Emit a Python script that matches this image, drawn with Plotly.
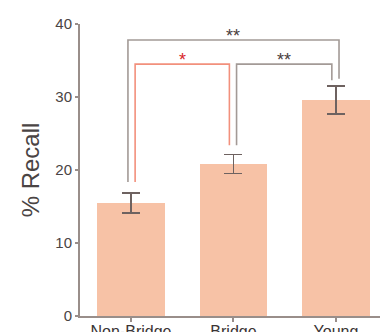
import plotly.graph_objects as go

# Recall by group
categories = ["Non-Bridge", "Bridge", "Young"]
recall_mean = [15.5, 20.8, 29.6]
recall_err = [1.35, 1.3, 1.9]

# Significance brackets: (left group, right group, left offset, right offset,
# bracket height, left leg end, right leg end, label, colour)
bracket_pairs = [(0, 2), (0, 1), (1, 2)]
bracket_offsets = [(-0.03, 0.03), (0.04, -0.04), (0.03, -0.04)]
bracket_heights = [37.8, 34.5, 34.5]
bracket_leg_ends = [(18.35, 32.5), (18.35, 23.4), (23.4, 32.3)]
bracket_labels = ["**", "*", "**"]
bracket_colors = ["#a39a96", "#f2907c", "#a39a96"]
label_colors = ["#4a4040", "#d8262a", "#4a4040"]

x = list(range(len(categories)))

fig = go.Figure()
fig.add_trace(go.Bar(
    x=x, y=recall_mean, width=0.66,
    marker=dict(color="#f7c2a6", line=dict(width=0)),
    error_y=dict(type="data", array=recall_err, visible=True,
                 color="#6e6260", thickness=1.6, width=9),
    showlegend=False,
))

for (a, b), (oa, ob), h, (la, lb), lab, col, lcol in zip(
        bracket_pairs, bracket_offsets, bracket_heights, bracket_leg_ends,
        bracket_labels, bracket_colors, label_colors):
    xa, xb = x[a] + oa, x[b] + ob
    fig.add_trace(go.Scatter(
        x=[xa, xa, xb, xb], y=[la, h, h, lb], mode="lines",
        line=dict(color=col, width=1.6), hoverinfo="skip", showlegend=False,
    ))
    fig.add_annotation(x=(xa + xb) / 2, y=h, text=lab, showarrow=False,
                       yanchor="middle", yshift=4,
                       font=dict(size=18, color=lcol, family="Liberation Sans"))

axis_color = "#998e8a"
fig.update_layout(
    width=380, height=332,
    margin=dict(l=80, r=0, t=24, b=16),
    paper_bgcolor="white", plot_bgcolor="white",
    font=dict(family="Liberation Sans", color="#4a4444"),
    bargap=0,
    xaxis=dict(
        range=[-0.498, 2.43], tickvals=x, ticktext=categories,
        showline=True, linecolor=axis_color, linewidth=2, automargin=False,
        ticks="outside", ticklen=4, tickcolor=axis_color, tickwidth=1.5,
        ticklabelstandoff=-4,
        tickfont=dict(size=16, color="#3a3434"), showgrid=False, zeroline=False,
    ),
    yaxis=dict(
        range=[0, 40], tickvals=[0, 10, 20, 30, 40], automargin=False,
        showline=True, linecolor=axis_color, linewidth=2,
        ticks="outside", ticklen=3, tickcolor=axis_color, tickwidth=1.5,
        tickfont=dict(size=15, color="#4a4444"), showgrid=False, zeroline=False,
        title=dict(text="% Recall", font=dict(size=24, color="#4a4444"), standoff=9),
    ),
)

fig.write_html("out.html")
